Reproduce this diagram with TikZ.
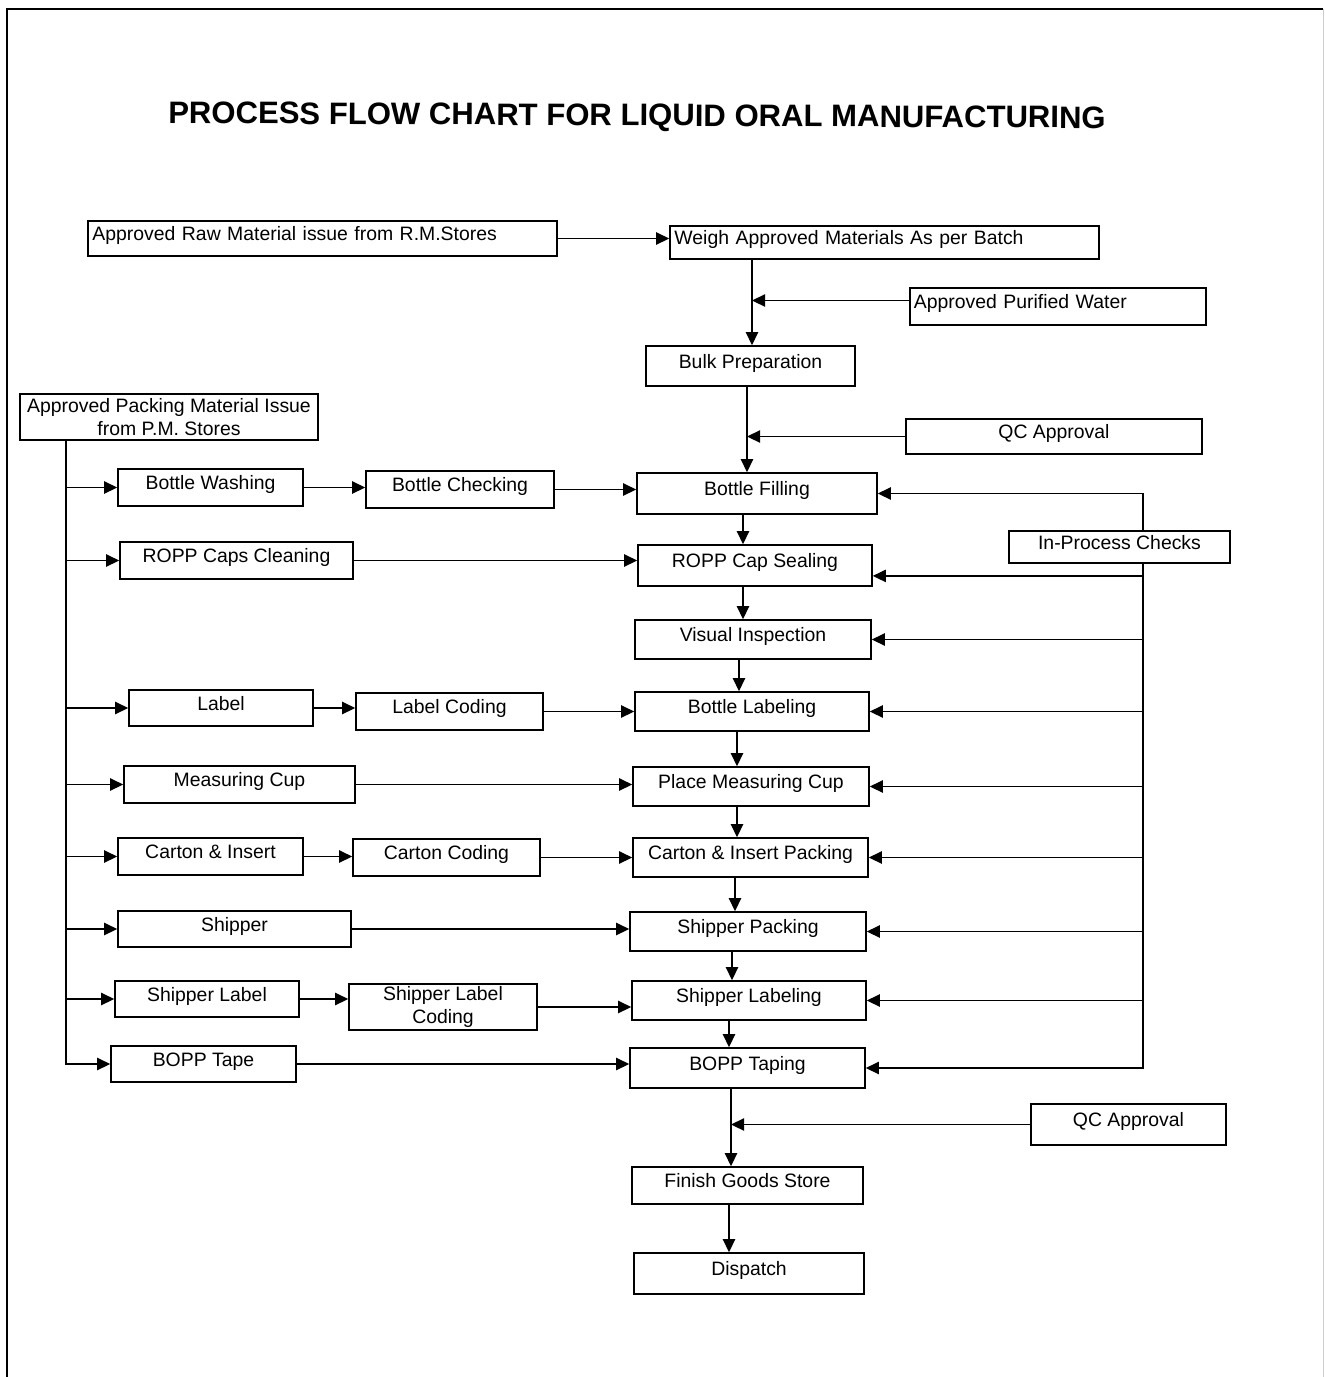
\documentclass[tikz,border=0pt]{standalone}
\usepackage{fontspec}
\setmainfont{Liberation Sans}
\usetikzlibrary{arrows.meta}
\tikzset{
  pbox/.style={draw, line width=1.1pt, fill=white, inner xsep=3pt, inner ysep=0pt,
    font=\fontsize{13.8}{16.8}\selectfont},
  oneline/.style={text height=10pt, text depth=7pt},
  leftal/.style={align=left},
  arr/.style={-{Triangle[length=0.33cm,width=0.31cm]}, line width=1pt},
  titlefont/.style={font=\fontsize{22.1}{26}\selectfont\bfseries}
}
\newcommand{\flowbox}[7][oneline]{\node[pbox,#1,minimum width={(#5-#3)*0.025cm},minimum height={(#6-#4)*0.025cm}] (#2) at ({(#3+#5)/2},{(#4+#6)/2}) {#7};}
\begin{document}
\begin{tikzpicture}[x=0.025cm,y=-0.025cm]
\useasboundingbox (0,0) rectangle (1325,1377);
% frame
\draw[line width=1.6pt] (7,1377) -- (7,9) -- (1323,9);
\draw[gray!40, line width=0.6pt] (1323,9) -- (1323,1377);
% title
\node[titlefont, rotate=-0.3] (title) at (637,118) {PROCESS FLOW CHART FOR LIQUID ORAL MANUFACTURING};
% boxes
\flowbox[oneline,leftal,text width=11.5cm]{rm}{88}{221}{557}{256}{Approved Raw Material issue from R.M.Stores}
\flowbox[oneline,leftal,text width=10.5cm]{weigh}{670}{226}{1099}{259}{Weigh Approved Materials As per Batch}
\flowbox[oneline,leftal,text width=7.2cm]{pw}{910}{288}{1206}{325}{Approved Purified Water}
\flowbox{bulk}{646}{346}{855}{386}{Bulk Preparation}
\flowbox[align=center]{pm}{20}{394}{318}{440}{Approved Packing Material Issue\\from P.M. Stores}
\flowbox{qca}{906}{419}{1202}{454}{QC Approval}
\flowbox{wash}{118}{469}{303}{506}{Bottle Washing}
\flowbox{check}{366}{471}{554}{508}{Bottle Checking}
\flowbox{fill}{637}{473}{877}{514}{Bottle Filling}
\flowbox{ipc}{1009}{531}{1230}{563}{In-Process Checks}
\flowbox{caps}{120}{542}{353}{579}{ROPP Caps Cleaning}
\flowbox{seal}{638}{545}{872}{586}{ROPP Cap Sealing}
\flowbox{visual}{635}{620}{871}{659}{Visual Inspection}
\flowbox{lab}{129}{690}{313}{726}{Label}
\flowbox{labcod}{356}{693}{543}{730}{Label Coding}
\flowbox{blab}{635}{692}{869}{731}{Bottle Labeling}
\flowbox{cup}{124}{766}{355}{803}{Measuring Cup}
\flowbox{place}{633}{767}{869}{806}{Place Measuring Cup}
\flowbox{ci}{118}{838}{303}{875}{Carton \& Insert}
\flowbox{ccod}{353}{839}{540}{876}{Carton Coding}
\flowbox{cip}{633}{838}{868}{877}{Carton \& Insert Packing}
\flowbox{ship}{118}{911}{351}{947}{Shipper}
\flowbox{spack}{630}{912}{866}{951}{Shipper Packing}
\flowbox{slab}{115}{981}{299}{1017}{Shipper Label}
\flowbox[align=center]{slcod}{349}{984}{537}{1030}{Shipper Label\\Coding}
\flowbox{slabel}{632}{981}{866}{1020}{Shipper Labeling}
\flowbox{tape}{111}{1046}{296}{1082}{BOPP Tape}
\flowbox{taping}{630}{1048}{865}{1088}{BOPP Taping}
\flowbox{qcb}{1031}{1104}{1226}{1145}{QC Approval}
\flowbox{fgs}{632}{1167}{863}{1204}{Finish Goods Store}
\flowbox{disp}{634}{1253}{864}{1294}{Dispatch}
% spine x positions
\coordinate (s1) at (752,0);
\coordinate (s2) at (747,0);
\coordinate (s3) at (743,0);
\coordinate (s4) at (739,0);
\coordinate (s5) at (737,0);
\coordinate (s6) at (735,0);
\coordinate (s7) at (732,0);
\coordinate (s8) at (729,0);
\coordinate (s9) at (731,0);
\coordinate (s10) at (729,0);
\coordinate (ipx) at (1143,0);
\coordinate (lx) at (66,0);
% main spine
\draw[arr] (weigh.south -| s1) -- (bulk.north -| s1);
\draw[arr] (bulk.south -| s2) -- (fill.north -| s2);
\draw[arr] (fill.south -| s3) -- (seal.north -| s3);
\draw[arr] (seal.south -| s3) -- (visual.north -| s3);
\draw[arr] (visual.south -| s4) -- (blab.north -| s4);
\draw[arr] (blab.south -| s5) -- (place.north -| s5);
\draw[arr] (place.south -| s5) -- (cip.north -| s5);
\draw[arr] (cip.south -| s6) -- (spack.north -| s6);
\draw[arr] (spack.south -| s7) -- (slabel.north -| s7);
\draw[arr] (slabel.south -| s8) -- (taping.north -| s8);
\draw[arr] (taping.south -| s9) -- (fgs.north -| s9);
\draw[arr] (fgs.south -| s10) -- (disp.north -| s10);
% feeders onto spine
\coordinate (pwin) at ([yshift=0.15cm]pw.west);
\draw[arr] (pwin) -- (pwin -| s1);
\draw[arr] (qca.west) -- (qca.west -| s2);
\draw[arr] (qcb.west) -- (qcb.west -| s9);
% in-process checks
\draw[arr] (ipc.north -| ipx) |- (fill.east);
\draw[arr] (ipc.south -| ipx) |- (taping.east);
\coordinate (sealin) at ([yshift=-0.26cm]seal.east);
\draw[arr] (sealin -| ipx) -- (sealin);
\foreach \n in {visual,blab,place,cip,spack,slabel}
  \draw[arr] (\n.east -| ipx) -- (\n.east);
% left trunk
\draw[arr] (pm.south -| lx) |- (tape.west);
\foreach \n in {wash,caps,lab,cup,ci,ship,slab}
  \draw[arr] (\n.west -| lx) -- (\n.west);
% horizontal flows
\draw[arr] (rm.east) -- (rm.east -| weigh.west);
\draw[arr] (wash.east) -- (wash.east -| check.west);
\draw[arr] (check.east) -- (check.east -| fill.west);
\draw[arr] (caps.east) -- (caps.east -| seal.west);
\draw[arr] (lab.east) -- (lab.east -| labcod.west);
\draw[arr] (labcod.east) -- (labcod.east -| blab.west);
\draw[arr] (cup.east) -- (cup.east -| place.west);
\draw[arr] (ci.east) -- (ci.east -| ccod.west);
\draw[arr] (ccod.east) -- (ccod.east -| cip.west);
\draw[arr] (ship.east) -- (ship.east -| spack.west);
\draw[arr] (slab.east) -- (slab.east -| slcod.west);
\draw[arr] (slcod.east) -- (slcod.east -| slabel.west);
\draw[arr] (tape.east) -- (tape.east -| taping.west);
\end{tikzpicture}
\end{document}
